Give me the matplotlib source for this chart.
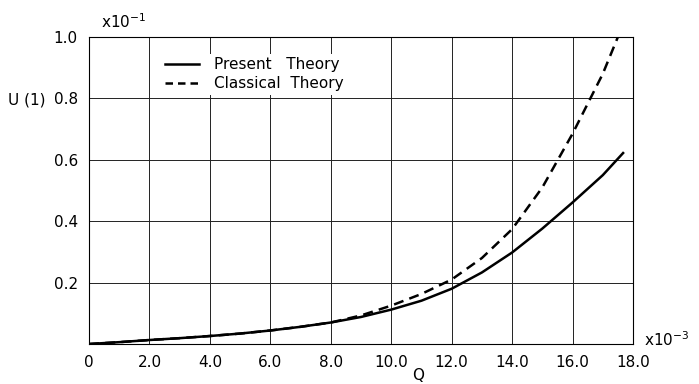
import matplotlib
matplotlib.use("Agg")
import matplotlib.pyplot as plt
from matplotlib.lines import Line2D

# Data (x in units of 1e-3, U in units of 1e-1)
q_present = [0, 1, 2, 3, 4, 5, 6, 7, 8, 9, 10, 11, 12, 13, 14, 15, 16, 17, 17.7]
u_present = [0, 0.006, 0.013, 0.019, 0.026, 0.034, 0.044, 0.056, 0.070, 0.088,
             0.112, 0.141, 0.180, 0.233, 0.298, 0.376, 0.461, 0.55, 0.625]
q_classical = [0, 1, 2, 3, 4, 5, 6, 7, 8, 9, 10, 11, 12, 13, 14, 15, 16, 17, 17.5]
u_classical = [0, 0.006, 0.013, 0.019, 0.026, 0.034, 0.044, 0.056, 0.070, 0.093,
               0.125, 0.163, 0.210, 0.280, 0.374, 0.510, 0.685, 0.880, 1.0]

xticks = [0, 2, 4, 6, 8, 10, 12, 14, 16, 18]
xticklabels = ["0", "2.0", "4.0", "6.0", "8.0", "10.0", "12.0", "14.0", "16.0", "18.0"]
yticks = [0.2, 0.4, 0.6, 0.8, 1.0]
yticklabels = ["0.2", "0.4", "0.6", "0.8", "1.0"]

plt.rcParams['font.family'] = ['DejaVu Sans']

fig = plt.figure(figsize=(6.99, 3.84), dpi=100)
ax = fig.add_axes([89/699, 40/384, (633-89)/699, (344-37)/384])

ax.set_xlim(0, 18)
ax.set_ylim(0, 1.0)
ax.set_xticks(xticks)
ax.set_xticklabels(xticklabels, fontsize=11)
ax.set_yticks(yticks)
ax.set_yticklabels(yticklabels, fontsize=11)
ax.tick_params(length=0, pad=8)
ax.grid(True, color='#222222', linewidth=0.7)
ax.set_axisbelow(True)
for s in ax.spines.values():
    s.set_linewidth(0.8)

ax.plot(q_present, u_present, color='black', linewidth=1.8, solid_capstyle='butt',
        solid_joinstyle='round', zorder=3)
ax.plot(q_classical, u_classical, color='black', linewidth=1.8, linestyle=(0, (4, 2.5)), zorder=3)

# Legend
handles = [Line2D([], [], color='black', linewidth=1.8),
           Line2D([], [], color='black', linewidth=1.8, linestyle=(0, (3, 2)))]
leg = ax.legend(handles, ["Present   Theory", "Classical  Theory"],
                loc='upper left', bbox_to_anchor=(0.12, 0.97), frameon=True,
                fontsize=11, handlelength=2.2, handletextpad=1.0,
                borderpad=0.2, labelspacing=0.3)
leg.get_frame().set_edgecolor('none')
leg.get_frame().set_facecolor('white')
leg.get_frame().set_alpha(1.0)

fig.text(27/699, 1 - 100/384, "U (1)", fontsize=11, ha='center', va='center')
fig.text(124/699, 1 - 22/384, r"x10$^{-1}$", fontsize=11, ha='center', va='center')
fig.text(667/699, 1 - 340/384, r"x10$^{-3}$", fontsize=11, ha='center', va='center')
fig.text(418/699, 1 - 375/384, "Q", fontsize=11, ha='center', va='center')

fig.savefig("out.png", dpi=100)
